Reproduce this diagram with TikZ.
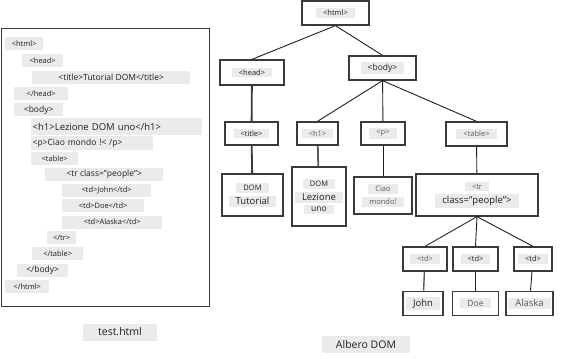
\documentclass[tikz,border=0pt]{standalone}
\usepackage{fontspec}
\setmainfont{Open Sans}
\usetikzlibrary{positioning}
\definecolor{HlGray}{HTML}{EBEBEB}
\definecolor{BoxBorder}{HTML}{3A3A3A}
\definecolor{TextDark}{HTML}{1E1E1E}
\definecolor{TextGray}{HTML}{5A5A5A}
\newcommand{\tagfont}{\fontsize{7.5}{9}\selectfont}
\newcommand{\midfont}{\fontsize{8.5}{10}\selectfont}
\newcommand{\bigfont}{\fontsize{9.5}{11}\selectfont}
\newcommand{\capfont}{\fontsize{10.5}{12}\selectfont}
\newcommand{\hlbox}[1]{\colorbox{HlGray}{\hspace{5pt}#1\hspace{5pt}}}
\setlength{\fboxsep}{2pt}

\begin{document}
\begin{tikzpicture}[
    x=1pt, y=-1pt,
    node distance=19pt,
    treebox/.style = {rectangle, draw=BoxBorder, fill=white, line width=1.3pt, align=center, inner sep=2pt, font=\tagfont, text=TextDark},
    codeline/.style = {rectangle, fill=HlGray, anchor=west, inner sep=1.5pt, minimum height=13pt, font=\tagfont, text=TextDark},
    caption/.style = {rectangle, fill=HlGray, inner sep=2pt, minimum height=17pt, font=\capfont, text=TextDark},
    link/.style = {draw, line width=0.9pt, TextDark}
]
    \useasboundingbox (0,0) rectangle (561,358);

    % source file
    \node [draw=BoxBorder, line width=1pt, anchor=north west, minimum width=208pt, minimum height=278pt] (codepanel) at (1,28) {};
    \node [codeline, minimum width=38pt] (cHtml) at (5,44) {<html>};
    \node [codeline, minimum width=41pt] (cHead) at (22,61) {<head>};
    \node [codeline, minimum width=158pt, font=\midfont] (cTitle) at (32,77.5) {<title>Tutorial DOM</title>};
    \node [codeline, minimum width=54pt] (cHeadEnd) at (14,93.5) {</head>};
    \node [codeline, minimum width=49pt, font=\midfont] (cBody) at (14,110) {<body>};
    \node [codeline, text width=168pt, align=left, font=\bigfont, minimum height=17pt] (cH1) at (31,126.5) {<h1>Lezione DOM uno</h1>};
    \node [codeline, text width=119pt, align=left, font=\midfont] (cP) at (31,143) {<p>Ciao mondo !< /p>};
    \node [codeline, minimum width=47pt] (cTable) at (31,158.5) {<table>};
    \node [codeline, minimum width=118pt, font=\midfont] (cTr) at (45,174) {<tr class="people">};
    \node [codeline, minimum width=89pt] (cTd1) at (62,190) {<td>John</td>};
    \node [codeline, minimum width=82pt] (cTd2) at (62,205.5) {<td>Doe</td>};
    \node [codeline, minimum width=100pt] (cTd3) at (62,222) {<td>Alaska</td>};
    \node [codeline, minimum width=29pt] (cTrEnd) at (47,237.5) {</tr>};
    \node [codeline, minimum width=51pt] (cTableEnd) at (32,253.5) {</table>};
    \node [codeline, minimum width=51pt, font=\midfont] (cBodyEnd) at (17,270.5) {</body>};
    \node [codeline, minimum width=44pt] (cHtmlEnd) at (5,286.5) {</html>};
    \node [caption, minimum width=74pt] (testcap) at (120,332) {test.html};

    % DOM tree
    \node [treebox, minimum width=67pt, minimum height=24pt] (html) at (335.5,13) {\hlbox{<html>}};
    \node [treebox, minimum width=64pt, minimum height=25pt] (head) at (252,72.5) {\hlbox{<head>}};
    \node [treebox, minimum width=67pt, minimum height=24pt, font=\midfont] (body) at (382.5,68) {\hlbox{<body>}};
    \node [treebox, minimum width=53pt, minimum height=23pt] (title) at (251.5,133.5) {\hlbox{<title>}};
    \node [treebox, minimum width=41pt, minimum height=23pt, text=TextGray] (h1) at (317.5,133.5) {\hlbox{<h1>}};
    \node [treebox, minimum width=44pt, minimum height=23pt, text=TextGray] (p) at (383,133.5) {\hlbox{<p>}};
    \node [treebox, minimum width=61pt, minimum height=24pt, text=TextGray] (table) at (476.5,134) {\hlbox{<table>}};
    \node [treebox, minimum width=61pt, minimum height=42pt] (titletext) at (252.5,195) {\hlbox{DOM}\\[2pt]\hlbox{\bigfont Tutorial}};
    \node [treebox, minimum width=54pt, minimum height=59pt] (h1text) at (319,196.5) {\hlbox{DOM}\\[2pt]\hlbox{\bigfont Lezione}\\[2pt]\hlbox{\midfont uno}};
    \node [treebox, minimum width=58pt, minimum height=37pt, text=TextGray] (ptext) at (383,195.5) {\hlbox{Ciao}\\[2pt]\hlbox{mondo!}};
    \node [treebox, minimum width=122pt, minimum height=42pt] (tr) at (477,195) {\hlbox{\textcolor{TextGray}{<tr}}\\[2pt]\hlbox{\bigfont class="people">}};
    \node [treebox, minimum width=44pt, minimum height=24pt, text=TextGray] (td1) at (425,259) {\hlbox{<td>}};
    \node [treebox, minimum width=45pt, minimum height=24pt] (td2) at (475.5,259) {\hlbox{<td>}};
    \node [treebox, minimum width=38pt, minimum height=24pt] (td3) at (533,259) {\hlbox{<td>}};
    \node [treebox, minimum width=40pt, minimum height=24pt, below=19pt of td1, xshift=-2pt, font=\bigfont] (john) {\hlbox{John}};
    \node [treebox, minimum width=46pt, minimum height=24pt, below=19pt of td2, font=\midfont, text=TextGray] (doe) {\hlbox{Doe}};
    \node [treebox, minimum width=47pt, minimum height=24pt, below=19pt of td3, xshift=-3.5pt, font=\bigfont, text=TextGray] (alaska) {\hlbox{Alaska}};
    \node [caption, minimum width=88pt] (domcap) at (366,344.5) {Albero DOM};

    \draw [link] (html.south) -- (head.north);
    \draw [link] (html.south) -- (body.north);
    \draw [link, line width=1.8pt, BoxBorder] (head) -- (title);
    \draw [link, line width=1.8pt, BoxBorder] (title) -- (titletext);
    \draw [link] (body.south) -- (h1.north);
    \draw [link] (body) -- (p);
    \draw [link] (body.south) -- (table.north);
    \draw [link, line width=1.8pt, TextGray] (h1) -- (h1text);
    \draw [link] (p) -- (ptext);
    \draw [link] (table) -- (tr);
    \draw [link] (tr.south) -- (td1.north);
    \draw [link] (tr.south) -- (td2.north);
    \draw [link] (tr.south) -- (td3.north);
    \draw [link, line width=1.4pt, TextGray] (td1) -- (john);
    \draw [link] (td2) -- (doe);
    \draw [link] (td3) -- (alaska);
\end{tikzpicture}
\end{document}
